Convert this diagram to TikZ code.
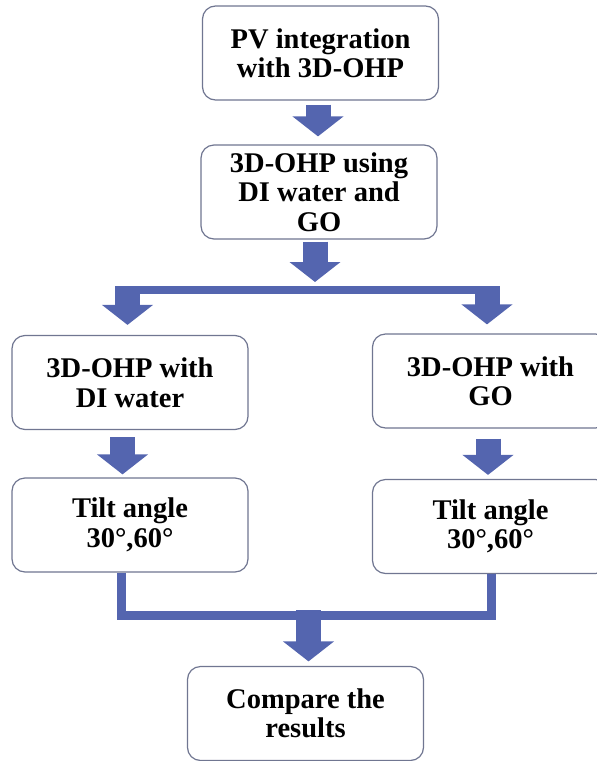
\documentclass[tikz,border=0pt]{standalone}
\usepackage{fontspec}
\setmainfont{Liberation Serif}
\usetikzlibrary{arrows.meta}
\definecolor{flowblue}{RGB}{84,101,175}
\definecolor{boxline}{RGB}{112,118,145}

\begin{document}
\begin{tikzpicture}[x=1pt, y=-1pt,
	stage/.style={
		draw=boxline, line width=1.2pt, rectangle, rounded corners=13pt,
		fill=white, minimum width=236pt, minimum height=94pt,
		font=\fontsize{28.5}{29.5}\selectfont\bfseries, align=center, inner sep=2pt
	},
	blockarr/.style={draw=flowblue, line width=25pt, -{Triangle[width=50pt,length=20pt]}},
	bar/.style={draw=flowblue, line width=8pt, line join=miter},
	]
	
	\clip (0,0) rectangle (597,761);
	
	% Top chain (x=320)
	\node[stage] (pv)  at (320.5, 53)  {PV integration\\with 3D-OHP};
	\node[stage] (ohp) at (319, 192)   {3D-OHP using\\DI water and\\GO};
	
	% Left branch (x=130)
	\node[stage] (diw) at (130, 382.5) {3D-OHP with\\DI water};
	\node[stage] (tl)  at (130, 525)   {Tilt angle\\30°,60°};
	
	% Right branch (x=490)
	\node[stage] (gow) at (490.5, 381)   {3D-OHP with\\GO};
	\node[stage] (tr)  at (490.5, 526.5) {Tilt angle\\30°,60°};
	
	% Result
	\node[stage] (cmp) at (305.5, 713.5) {Compare the\\results};
	
	% Junction points
	\coordinate (fork)   at (315, 289.5);
	\coordinate (barL)   at (115, 289.5);
	\coordinate (barR)   at (500, 289.5);
	\coordinate (splitL) at (127.5, 286);
	\coordinate (splitR) at (487, 286);
	\coordinate (mergeL) at (121, 615);
	\coordinate (mergeR) at (491, 615);
	\coordinate (merge)  at (308.5, 610);
	
	% Top arrows
	\draw[blockarr, shorten <=4pt, shorten >=8pt] ([xshift=-2.5pt]pv.south) -- ([xshift=-1pt]ohp.north);
	\draw[blockarr, shorten <=2pt, shorten >=7.5pt] ([xshift=-4pt]ohp.south) -- (fork);
	
	% Split into two branches
	\draw[bar] (barL) -- (barR);
	\draw[blockarr, shorten >=10pt] (splitL) -- (splitL |- diw.north);
	\draw[blockarr, shorten >=9pt]  (splitR) -- (splitR |- gow.north);
	
	% Branch arrows
	\draw[blockarr, shorten <=7pt, shorten >=3pt]  ([xshift=-7.5pt]diw.south) -- ([xshift=-7.5pt]tl.north);
	\draw[blockarr, shorten <=10pt, shorten >=4pt] ([xshift=-2.5pt]gow.south) -- ([xshift=-2.5pt]tr.north);
	
	% Merge and result
	\draw[bar, line width=9pt] ([xshift=-9pt]tl.south) -- (mergeL) -- (mergeR) -- ([xshift=0.5pt]tr.south);
	\draw[blockarr, shorten >=4.5pt] (merge) -- (merge |- cmp.north);
	
\end{tikzpicture}
\end{document}
